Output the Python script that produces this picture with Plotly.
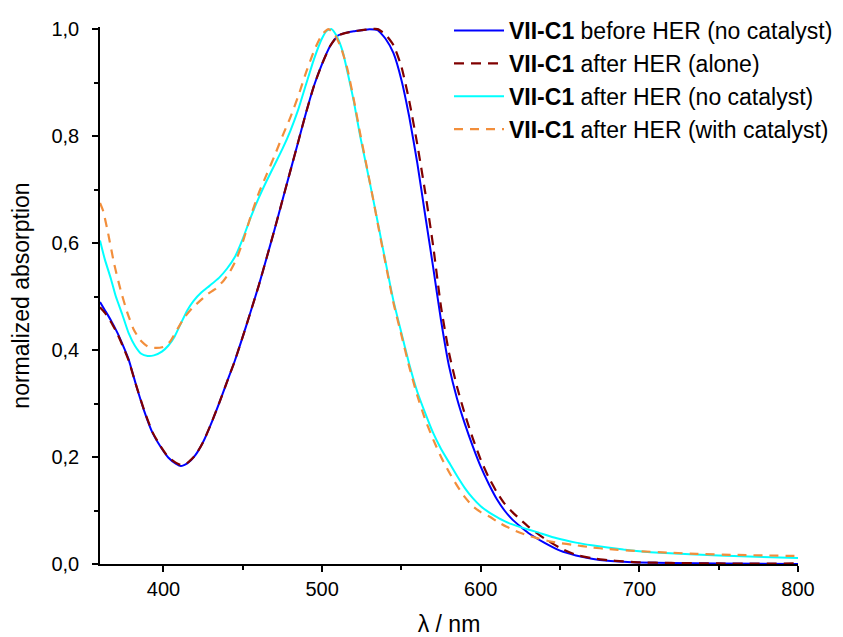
import plotly.graph_objects as go

# ---- data ----
wl_before = [360, 363, 367, 371, 375, 378, 383, 388, 393, 398, 403, 408, 411, 415, 420, 425, 430, 435, 440, 445, 450, 455,
             460, 465, 470, 475, 480, 485, 490, 495, 500, 505, 510, 515, 520, 525, 530, 535, 540, 545, 550, 555, 560, 565,
             570, 575, 580, 585, 590, 595, 600, 605, 610, 615, 620, 625, 630, 640, 650, 660, 670, 680, 690, 700, 720, 750, 800]
abs_before = [0.49, 0.475, 0.455, 0.432, 0.405, 0.383, 0.332, 0.285, 0.246, 0.22, 0.199, 0.187, 0.183, 0.188, 0.203, 0.228,
              0.262, 0.3, 0.34, 0.38, 0.425, 0.472, 0.52, 0.572, 0.625, 0.68, 0.735, 0.79, 0.845, 0.895, 0.935, 0.968,
              0.988, 0.993, 0.996, 0.998, 1.0, 0.998, 0.982, 0.955, 0.905, 0.835, 0.75, 0.652, 0.555, 0.455, 0.37, 0.31,
              0.262, 0.22, 0.182, 0.15, 0.122, 0.1, 0.083, 0.07, 0.058, 0.04, 0.025, 0.016, 0.01, 0.006, 0.004,
              0.003, 0.002, 0.001, 0.0]

wl_alone = [360, 363, 367, 371, 375, 378, 383, 388, 393, 398, 403, 408, 411, 415, 420, 425, 430, 435, 440, 445, 450, 455,
            460, 465, 470, 475, 480, 485, 490, 495, 500, 505, 510, 515, 520, 525, 530, 535, 540, 545, 550, 555, 560, 565,
            570, 575, 580, 585, 590, 595, 600, 605, 610, 615, 620, 625, 630, 640, 650, 660, 670, 680, 690, 700, 720, 750, 800]
abs_alone = [0.48, 0.47, 0.452, 0.43, 0.403, 0.381, 0.332, 0.286, 0.247, 0.221, 0.2, 0.189, 0.185, 0.189, 0.203, 0.228,
             0.262, 0.3, 0.34, 0.38, 0.425, 0.472, 0.52, 0.572, 0.625, 0.68, 0.735, 0.79, 0.845, 0.895, 0.935, 0.968,
             0.988, 0.993, 0.996, 0.998, 1.0, 1.0, 0.99, 0.97, 0.93, 0.865, 0.785, 0.695, 0.595, 0.48, 0.395, 0.332,
             0.28, 0.235, 0.195, 0.162, 0.135, 0.113, 0.097, 0.083, 0.07, 0.048, 0.03, 0.017, 0.011, 0.007, 0.005,
             0.003, 0.002, 0.001, 0.001]

wl_nocat = [360, 363, 367, 370, 374, 378, 382, 386, 390, 394, 399, 403, 407, 411, 415, 419, 424, 429, 435, 440, 445, 450,
            455, 460, 465, 470, 475, 480, 485, 490, 495, 500, 503, 506, 509, 513, 516, 520, 524, 528, 532, 536, 540, 545,
            550, 555, 560, 565, 570, 575, 580, 585, 590, 595, 600, 605, 610, 615, 620, 627, 635, 648, 660, 670, 690, 700,
            713, 750, 800]
abs_nocat = [0.605, 0.57, 0.532, 0.5, 0.467, 0.432, 0.408, 0.393, 0.389, 0.39, 0.397, 0.408, 0.425, 0.45, 0.474, 0.492,
             0.508, 0.52, 0.535, 0.552, 0.574, 0.608, 0.648, 0.684, 0.716, 0.746, 0.776, 0.81, 0.85, 0.898, 0.945, 0.983,
             0.997, 1.0, 0.988, 0.958, 0.92, 0.865, 0.8, 0.743, 0.685, 0.625, 0.565, 0.492, 0.432, 0.373, 0.322,
             0.282, 0.245, 0.215, 0.19, 0.165, 0.142, 0.123, 0.108, 0.097, 0.088, 0.08, 0.074, 0.067, 0.06, 0.048,
             0.04, 0.035, 0.027, 0.024, 0.021, 0.016, 0.011]

wl_withcat = [360, 362, 365, 369, 373, 377, 381, 385, 390, 395, 400, 404, 409, 413, 418, 423, 428, 433, 438, 442, 446,
              450, 455, 460, 465, 470, 475, 480, 485, 490, 495, 500, 504, 508, 512, 516, 520, 524, 528, 532, 536, 540,
              545, 550, 555, 560, 565, 570, 575, 580, 585, 590, 595, 600, 606, 610, 616, 622, 629, 636, 644, 650, 658,
              670, 680, 700, 720, 736, 760, 800]
abs_withcat = [0.675, 0.66, 0.62, 0.56, 0.512, 0.472, 0.44, 0.42, 0.407, 0.404, 0.406, 0.415, 0.44, 0.46, 0.478, 0.492,
               0.505, 0.515, 0.53, 0.547, 0.57, 0.602, 0.65, 0.693, 0.728, 0.763, 0.8, 0.835, 0.875, 0.92, 0.96, 0.99,
               1.0, 0.99, 0.965, 0.925, 0.868, 0.805, 0.745, 0.685, 0.622, 0.562, 0.488, 0.428, 0.368, 0.315, 0.27,
               0.233, 0.2, 0.172, 0.147, 0.125, 0.108, 0.097, 0.088, 0.08, 0.07, 0.062, 0.054, 0.048, 0.042, 0.039,
               0.036, 0.031, 0.028, 0.024, 0.021, 0.019, 0.017, 0.015]

names = ["<b>VII-C1</b> before HER (no catalyst)",
         "<b>VII-C1</b> after HER (alone)",
         "<b>VII-C1</b> after HER (no catalyst)",
         "<b>VII-C1</b> after HER (with catalyst)"]

x_ticks = [400, 500, 600, 700, 800]
y_ticks = [0.0, 0.2, 0.4, 0.6, 0.8, 1.0]

FONT = "Arial, 'Liberation Sans', sans-serif"
SM = 0.5

# page body has an 8px margin, so the figure is drawn 8px in from the window corner
OFF = 8
W, H = 843 - OFF, 637 - OFF
PLOT_LEFT, PLOT_RIGHT, PLOT_TOP, PLOT_BOTTOM = 100 - OFF, 798 - OFF, 27 - OFF, 564 - OFF
ML, MR, MT = PLOT_LEFT, 5, 1
MB = H - PLOT_BOTTOM
paper_w = W - ML - MR
paper_h = H - MT - MB
x_dom_end = (PLOT_RIGHT - ML) / paper_w
y_dom_end = (PLOT_BOTTOM - PLOT_TOP) / paper_h
legend_top = 8 - OFF

fig = go.Figure()
fig.add_trace(go.Scatter(x=wl_before, y=abs_before, mode="lines", name=names[0],
                         line=dict(color="#0000FF", width=2, shape="spline", smoothing=SM)))
fig.add_trace(go.Scatter(x=wl_alone, y=abs_alone, mode="lines", name=names[1],
                         line=dict(color="#800000", width=2.2, dash="10px,7px", shape="spline", smoothing=SM)))
fig.add_trace(go.Scatter(x=wl_nocat, y=abs_nocat, mode="lines", name=names[2],
                         line=dict(color="#00FFFF", width=2, shape="spline", smoothing=SM)))
fig.add_trace(go.Scatter(x=wl_withcat, y=abs_withcat, mode="lines", name=names[3],
                         line=dict(color="#F28E3B", width=2.2, dash="9px,7px", shape="spline", smoothing=SM)))

axis_common = dict(showgrid=False, zeroline=False, showline=True, linecolor="black", linewidth=1.5,
                   ticks="outside", ticklen=6, tickwidth=1.5, tickcolor="black", automargin=False,
                   tickfont=dict(family=FONT, size=20, color="black"), mirror=False)

fig.update_layout(
    width=W, height=H,
    paper_bgcolor="white", plot_bgcolor="white",
    separators=",.",
    margin=dict(l=ML, r=MR, t=MT, b=MB, autoexpand=False),
    font=dict(family=FONT, color="black"),
    xaxis=dict(domain=[0, x_dom_end], range=[360, 800], tickvals=x_ticks, ticktext=[str(v) for v in x_ticks],
               minor=dict(dtick=50, tick0=0, ticks="outside", ticklen=4, tickwidth=1.5, tickcolor="black"),
               title=dict(text="λ / nm", font=dict(family=FONT, size=23), standoff=18),
               **axis_common),
    yaxis=dict(domain=[0, y_dom_end], range=[0, 1.004], tickvals=y_ticks, tickformat=".1f", ticklabelstandoff=9,
               minor=dict(dtick=0.1, tick0=0, ticks="outside", ticklen=4, tickwidth=1.5, tickcolor="black"),
               title=dict(text="normalized absorption", font=dict(family=FONT, size=23), standoff=17),
               **axis_common),
    legend=dict(x=1.0, xanchor="right", y=1.0 - max(legend_top - MT, 0) / paper_h, yanchor="top",
                bgcolor="rgba(0,0,0,0)",
                font=dict(family=FONT, size=23, color="black"), tracegroupgap=0, itemwidth=50),
    showlegend=True,
)

fig.write_html("out.html")
